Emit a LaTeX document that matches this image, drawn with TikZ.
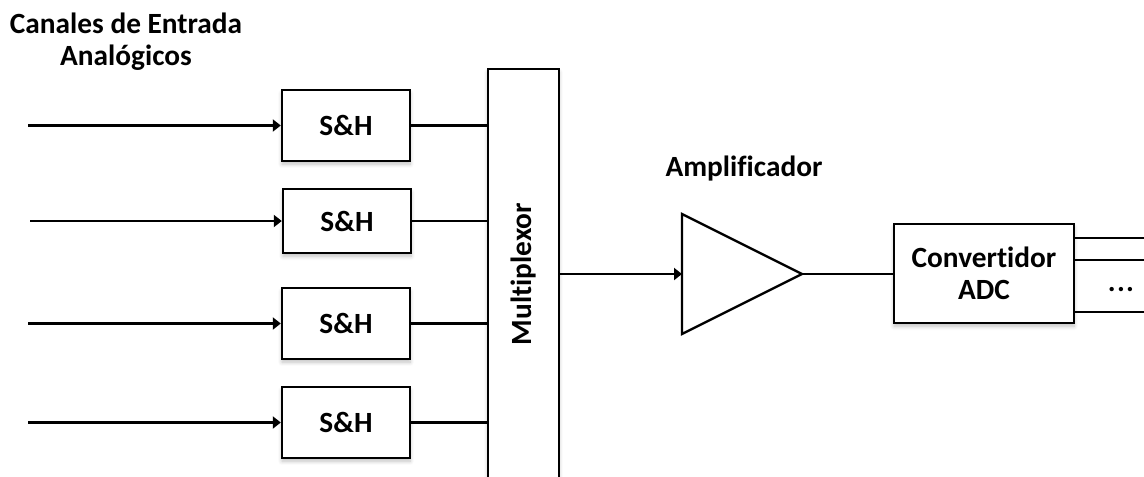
\documentclass[tikz,border=0pt]{standalone}
\usepackage{fontspec}
\setmainfont{Carlito}[Ligatures={NoCommon}]
\usetikzlibrary{arrows.meta,shadows.blur}
\begin{document}
\begin{tikzpicture}[x=0.75pt,y=-0.75pt,
  wire/.style={line width=1.8pt},
  sig/.style={wire,-{Triangle[length=6pt,width=9pt]}},
  blk/.style={draw,line width=1.8pt,fill=white,inner sep=0pt,
    blur shadow={shadow xshift=0pt,shadow yshift=-2.5pt,shadow blur steps=6,shadow opacity=25,shadow blur radius=3pt},
    font=\bfseries\fontsize{22}{24}\selectfont,align=center},
  lbl/.style={font=\bfseries\fontsize{22}{24}\selectfont,align=center,inner sep=0pt}]
\useasboundingbox (0,0) rectangle (1144,476);

% title
\node[lbl] (title) at (126,42) {Canales de Entrada\\Analógicos};

% sample and hold stages
\node[blk,minimum width=96pt,minimum height=53pt] (sh1) at (346,125.5) {S\&H};
\node[blk,minimum width=96pt,minimum height=48pt] (sh2) at (347,221) {S\&H};
\node[blk,minimum width=96pt,minimum height=53pt] (sh3) at (346,323.5) {S\&H};
\node[blk,minimum width=96pt,minimum height=53pt] (sh4) at (346,422.5) {S\&H};

% input channel ends
\coordinate (in1) at (28,125.5);
\coordinate (in2) at (30,221);
\coordinate (in3) at (28,323.5);
\coordinate (in4) at (28,422.5);

% multiplexer
\node[blk,minimum width=53.25pt,minimum height=307.5pt] (mux) at (523.5,274) {};
\node[lbl,rotate=90] (muxl) at (mux.center) {Multiplexor};

% amplifier
\coordinate (ampin) at (682,274);
\coordinate (amptop) at (682,214);
\coordinate (ampbot) at (682,334);
\coordinate (ampout) at (802,274);
\draw[line width=1.8pt,line join=miter,fill=white] (amptop) -- (ampout) -- (ampbot) -- cycle;
\node[lbl] (ampl) at (744,169) {Amplificador};

% converter
\node[blk,minimum width=135pt,minimum height=74.25pt] (adc) at (984,273.5) {Convertidor\\ADC};
\node[lbl] (dots) at (1121,290) {.\kern1pt.\kern1pt.};

% digital outputs
\coordinate (o1) at (1144,238);
\coordinate (o2) at (1144,260);
\coordinate (o3) at (1144,312);

% connections
\foreach \i in {1,2,3,4}{
  \draw[sig] (in\i) -- (sh\i.west);
  \draw[wire] (sh\i.east) -- (sh\i.east -| mux.west);
}
\draw[sig] (mux.east |- ampin) -- (ampin);
\draw[wire] (ampout) -- (ampout -| adc.west);
\draw[wire] (adc.east |- o1) -- (o1);
\draw[wire] (adc.east |- o2) -- (o2);
\draw[wire] (adc.east |- o3) -- (o3);
\end{tikzpicture}
\end{document}
